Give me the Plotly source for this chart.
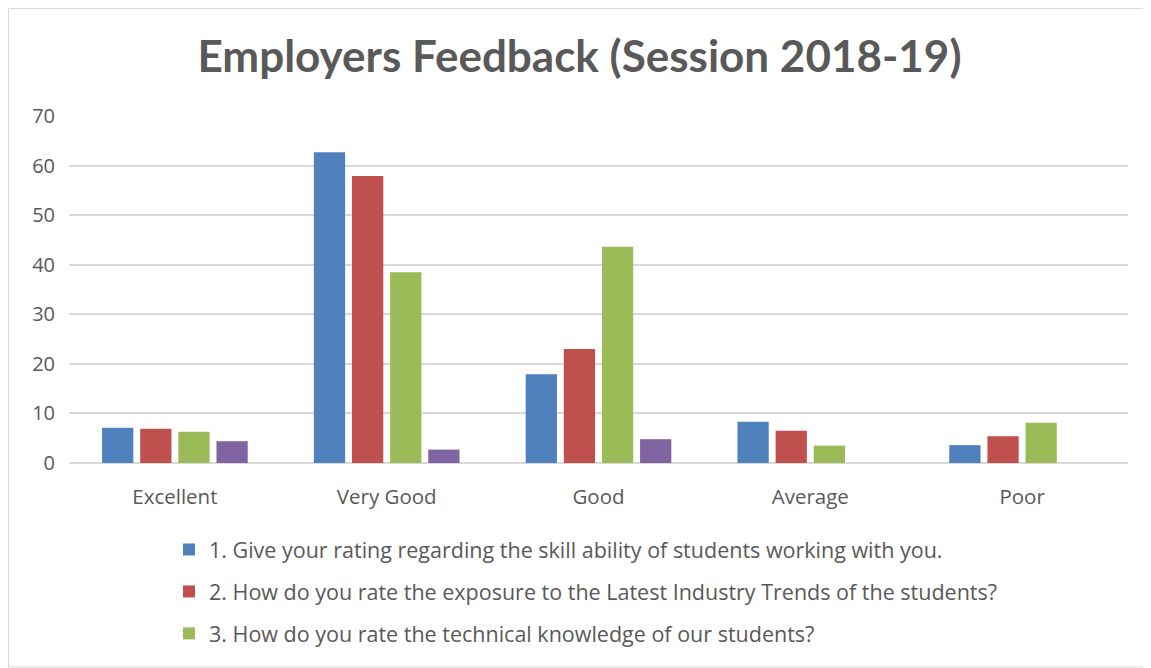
import plotly.graph_objects as go

categories = ["Excellent", "Very Good", "Good", "Average", "Poor"]
series_names = [
    "1. Give your rating regarding the skill ability of students working with you.",
    "2. How do you rate the exposure to the Latest Industry Trends of the students?",
    "3. How do you rate the technical knowledge of our students?",
    "4.",
]
q1 = [7.1, 62.7, 17.9, 8.3, 3.6]
q2 = [6.9, 57.9, 23.0, 6.5, 5.4]
q3 = [6.3, 38.5, 43.6, 3.5, 8.1]
q4 = [4.4, 2.7, 4.8, 0, 0]
colors = ["#4f81bd", "#c0504d", "#9bbb59", "#8064a2"]
y_ticks = [0, 10, 20, 30, 40, 50, 60, 70]

OFF = 8  # page body margin
W, H = 1151 - OFF, 668 - OFF
# plot area in screenshot pixels: x 69..1128, y 116..463
L, R, T, B = 69 - OFF, 1151 - 1128, 116 - OFF, 668 - 463
pw, ph = W - L - R, H - T - B

fig = go.Figure()
for i, vals in enumerate([q1, q2, q3, q4]):
    fig.add_trace(go.Bar(
        x=categories, y=vals, name=series_names[i],
        marker=dict(color=colors[i], line=dict(width=0)),
        legendgroup=f"g{i}", showlegend=(i < 3),
    ))

def px_x(x):  # screenshot px -> paper
    return (x - OFF - L) / pw

def px_y(y):
    return (H - B - (y - OFF)) / ph

fig.update_layout(
    width=W, height=H,
    margin=dict(l=L, r=R, t=T, b=B),
    paper_bgcolor="white", plot_bgcolor="white",
    barmode="group", bargap=0.28, bargroupgap=0.18,
    font=dict(family="Open Sans", color="#595959"),
    title=dict(text="<b>Employers Feedback (Session 2018-19)</b>",
               x=0.5, xanchor="center", y=1 - (57 - OFF) / H, yanchor="middle",
               font=dict(size=44, color="#595959", family="Lato")),
    xaxis=dict(showgrid=False, showline=False, ticks="", ticklabelstandoff=19,
               tickfont=dict(size=20.5, color="#595959")),
    yaxis=dict(range=[0, 70], tickvals=y_ticks, showgrid=True,
               gridcolor="#d9d9d9", gridwidth=1.5, zeroline=True,
               zerolinecolor="#d9d9d9", zerolinewidth=1.5,
               showline=False, ticks="", ticklabelstandoff=13,
               tickfont=dict(size=20, color="#595959")),
    legend=dict(orientation="v", x=px_x(169), xanchor="left",
                y=px_y(529), yanchor="top", traceorder="grouped",
                tracegroupgap=11, font=dict(size=21.5, color="#595959"),
                itemwidth=30, bgcolor="rgba(0,0,0,0)"),
    shapes=[dict(type="rect", xref="paper", yref="paper",
                 x0=px_x(OFF + 0.5), x1=px_x(1150), y0=px_y(667), y1=px_y(OFF + 0.5),
                 line=dict(color="#d9d9d9", width=1), layer="below")],
)

fig.write_html("out.html")
